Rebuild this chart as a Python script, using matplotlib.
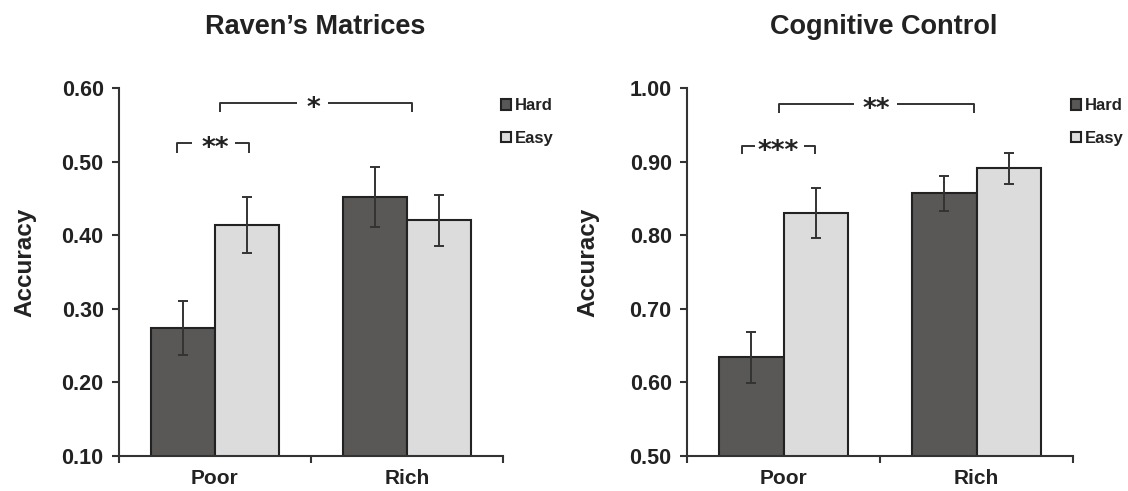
import matplotlib
matplotlib.use("Agg")
import matplotlib.pyplot as plt
import numpy as np
from matplotlib.patches import Patch

plt.rcParams['font.family'] = ['Liberation Sans', 'DejaVu Sans']
plt.rcParams['font.weight'] = 'bold'

categories = ["Poor", "Rich"]
series = ["Hard", "Easy"]

ravens_hard = [0.274, 0.452]
ravens_hard_err = [0.037, 0.041]
ravens_easy = [0.414, 0.420]
ravens_easy_err = [0.038, 0.034]

cog_hard = [0.634, 0.857]
cog_hard_err = [0.035, 0.024]
cog_easy = [0.830, 0.891]
cog_easy_err = [0.034, 0.021]

titles = ["Raven\u2019s Matrices", "Cognitive Control"]
ylims = [(0.10, 0.60), (0.50, 1.00)]
yticks = [[0.10, 0.20, 0.30, 0.40, 0.50, 0.60], [0.50, 0.60, 0.70, 0.80, 0.90, 1.00]]

HARD = "#595856"
EASY = "#dcdcdc"
EDGE = "#222222"

W, H = 1128, 491
fig = plt.figure(figsize=(W / 100, H / 100), dpi=100)

axes_px = [(119, 503), (687, 1073)]
top_px, bot_px = 88, 456

panels = [
    (ravens_hard, ravens_hard_err, ravens_easy, ravens_easy_err),
    (cog_hard, cog_hard_err, cog_easy, cog_easy_err),
]

# significance annotations: (x1, x2, y, drop, label, label_x, gap_left, gap_right)
sig = [
    [(0.526, 1.526, 0.5796, 0.0125, "*", 1.01, 0.927, 1.089),
     (0.302, 0.677, 0.5253, 0.0136, "**", 0.50, 0.380, 0.604)],
    [(0.477, 1.487, 0.978, 0.012, "**", 0.979, 0.865, 1.088),
     (0.285, 0.663, 0.921, 0.011, "***", 0.472, 0.352, 0.606)],
]

bw = 0.335
x = np.array([0.5, 1.5])

for i, (hv, he, ev, ee) in enumerate(panels):
    l, r = axes_px[i]
    ax = fig.add_axes([l / W, 1 - bot_px / H, (r - l) / W, (bot_px - top_px) / H])
    ax.bar(x - bw / 2, hv, bw, color=HARD, edgecolor=EDGE, linewidth=1.5, zorder=2, label=series[0])
    ax.bar(x + bw / 2, ev, bw, color=EASY, edgecolor=EDGE, linewidth=1.5, zorder=2, label=series[1])
    ax.errorbar(x - bw / 2, hv, yerr=he, fmt='none', ecolor="#333333", elinewidth=1.4, capsize=3.8, capthick=1.4, zorder=3)
    ax.errorbar(x + bw / 2, ev, yerr=ee, fmt='none', ecolor="#333333", elinewidth=1.4, capsize=3.8, capthick=1.4, zorder=3)
    ax.set_xlim(0, 2)
    ax.set_ylim(*ylims[i])
    ax.set_yticks(yticks[i])
    ax.set_yticklabels([f"{v:.2f}" for v in yticks[i]], fontsize=15.5, fontweight='bold', color="#222222")
    ax.set_xticks([0, 1, 2])
    ax.set_xticklabels([])
    ax.set_xticks(x, minor=True)
    ax.set_xticklabels(categories, minor=True, fontsize=15, fontweight='bold', color="#222222")
    ax.tick_params(axis='x', which='minor', length=0, pad=9)
    ax.tick_params(axis='x', which='major', length=5, width=1.5, direction='out', color="#333333")
    ax.tick_params(axis='y', length=5, width=1.5, direction='out', pad=6, color="#333333")
    for s in ['top', 'right']:
        ax.spines[s].set_visible(False)
    for s in ['left', 'bottom']:
        ax.spines[s].set_linewidth(1.5)
        ax.spines[s].set_color("#333333")

    for (x1, x2, y, d, lab, lx, g1, g2) in sig[i]:
        kw = dict(color="#333333", lw=1.4, clip_on=False, solid_capstyle='butt')
        ax.plot([x1, x1, g1], [y - d, y, y], **kw)
        ax.plot([g2, x2, x2], [y, y, y - d], **kw)
        ax.text(lx, y - 0.008, lab, ha='center', va='center', fontsize=19, fontweight='bold',
                color="#222222", family=['DejaVu Sans'])

    handles = [Patch(facecolor=HARD, edgecolor=EDGE, linewidth=1.5),
               Patch(facecolor=EASY, edgecolor=EDGE, linewidth=1.5)]
    leg = ax.legend(handles, series, loc='upper left', bbox_to_anchor=(0.995, 0.972),
                    frameon=False, handlelength=0.6, handleheight=0.6, handletextpad=0.25,
                    borderpad=0, borderaxespad=0, labelspacing=1.05,
                    prop={'size': 12, 'weight': 'bold'})
    for t in leg.get_texts():
        t.set_color("#222222")

    cx = (l + r) / 2 / W
    fig.text(cx + 4 / W, 1 - 27 / H, titles[i], ha='center', va='center', fontsize=19.5,
             fontweight='bold', color="#222222")
    fig.text((25 if i == 0 else 588) / W, 1 - 262 / H, "Accuracy", rotation=90, ha='center',
             va='center', fontsize=17.5, fontweight='bold', color="#222222")

fig.savefig("out.png", dpi=100)
